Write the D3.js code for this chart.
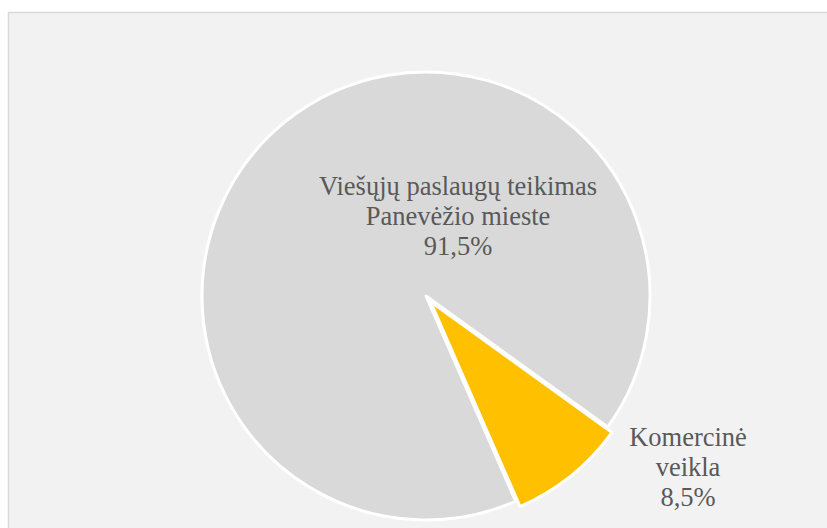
<!DOCTYPE html>
<html>
<head>
<meta charset="utf-8">
<script src="https://cdn.jsdelivr.net/npm/d3@7"></script>
<style>
  html, body { margin: 0; padding: 0; background: #ffffff; }
  svg { display: block; }
  .lbl { font-family: 'Liberation Serif', 'Times New Roman', Tinos, 'DejaVu Serif', serif; }
</style>
</head>
<body>
<svg id="chart" width="827" height="528"></svg>
<script>
// chart data
var categories = ['Viešųjų paslaugų teikimas Panevėžio mieste', 'Komercinė veikla'];
var shares = [91.5, 8.5];
var labelLines = [
  ['Viešųjų paslaugų teikimas', 'Panevėžio mieste', '91,5%'],
  ['Komercinė', 'veikla', '8,5%']
];
var sliceColors = ['#d9d9d9', '#ffc000'];

(function () {
  'use strict';

  var svg = d3.select('#chart');
  var width = +svg.attr('width');
  var height = +svg.attr('height');

  var cx = 426, cy = 296, radius = 224;
  var explode = [0, 7];
  // where the data labels sit, relative to the pie centre
  var labelPos = [[32, -101], [262, 150]];
  var lineHeight = 30;

  // chart area
  svg.append('rect')
    .attr('x', 8.5)
    .attr('y', 12.5)
    .attr('width', width)
    .attr('height', height)
    .attr('fill', '#f2f2f2')
    .attr('stroke', '#d9d9d9')
    .attr('stroke-width', 1.5);

  var data = categories.map(function (c, i) {
    return { name: c, value: shares[i], lines: labelLines[i], color: sliceColors[i], idx: i };
  });

  var pie = d3.pie()
    .sort(null)
    .value(function (d) { return d.value; })
    .startAngle(156.4 * Math.PI / 180)
    .endAngle(156.4 * Math.PI / 180 + 2 * Math.PI);

  var arc = d3.arc().innerRadius(0).outerRadius(radius);

  var g = svg.append('g').attr('transform', 'translate(' + cx + ',' + cy + ')');

  g.selectAll('path.slice')
    .data(pie(data))
    .enter()
    .append('path')
    .attr('class', 'slice')
    .attr('transform', function (d) {
      var mid = (d.startAngle + d.endAngle) / 2;
      var off = explode[d.data.idx];
      return 'translate(' + (Math.sin(mid) * off) + ',' + (-Math.cos(mid) * off) + ')';
    })
    .attr('d', arc)
    .attr('fill', function (d) { return d.data.color; })
    .attr('stroke', '#ffffff')
    .attr('stroke-width', 3)
    .attr('stroke-linejoin', 'round');

  var labels = g.selectAll('text.lbl')
    .data(pie(data))
    .enter()
    .append('text')
    .attr('class', 'lbl')
    .attr('text-anchor', 'middle')
    .attr('font-size', '26.5px')
    .attr('fill', '#595959')
    .attr('transform', function (d) {
      var p = labelPos[d.data.idx];
      return 'translate(' + p[0] + ',' + p[1] + ')';
    });

  labels.selectAll('tspan')
    .data(function (d) { return d.data.lines; })
    .enter()
    .append('tspan')
    .attr('x', 0)
    .attr('y', function (d, i) { return i * lineHeight; })
    .text(function (d) { return d; });
})();
</script>
</body>
</html>
